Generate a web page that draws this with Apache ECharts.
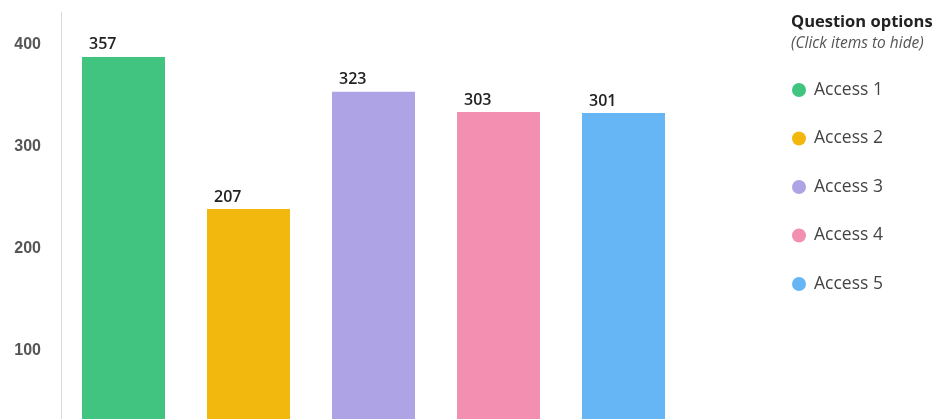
<!DOCTYPE html>
<html>
<head>
<meta charset="utf-8">
<script src="https://cdn.jsdelivr.net/npm/echarts@6/dist/echarts.min.js"></script>
<style>html,body{margin:0;padding:0;background:#fff}#c{width:944px;height:419px}</style>
</head>
<body>
<div id="c"></div>
<script>
const categories = ['Access 1', 'Access 2', 'Access 3', 'Access 4', 'Access 5'];
const barValues = [388, 239, 354, 334, 333];
const valueLabels = ['357', '207', '323', '303', '301'];
const colors = ['#40c47f', '#f2b80e', '#aea4e5', '#f390b2', '#66b6f6'];
const yTicks = [100, 200, 300, 400];

const chart = echarts.init(document.getElementById('c'), null, {renderer: 'canvas'});
const series = categories.map((name, i) => ({
  name: name,
  type: 'bar',
  stack: 'all',
  barWidth: 83,
  itemStyle: {color: colors[i]},
  data: categories.map((c, j) => j === i ? barValues[i] : null),
  label: {
    show: true,
    position: [7, -20],
    formatter: () => valueLabels[i],
    fontFamily: 'Open Sans',
    fontSize: 16,
    fontWeight: 600,
    color: '#222'
  },
  emphasis: {disabled: true}
}));

chart.setOption({
  animation: false,
  title: {
    text: 'Question options',
    subtext: '(Click items to hide)',
    left: 791,
    top: 12,
    padding: 0,
    itemGap: 3,
    textStyle: {fontFamily: 'Open Sans', fontSize: 16.5, fontWeight: 'bold', color: '#222', lineHeight: 20},
    subtextStyle: {fontFamily: 'Open Sans', fontSize: 15.5, fontStyle: 'italic', color: '#555', lineHeight: 18}
  },
  legend: {
    orient: 'vertical',
    left: 792,
    top: 79,
    padding: 0,
    icon: 'circle',
    itemWidth: 14,
    itemHeight: 14,
    itemGap: 26.5,
    data: categories,
    textStyle: {fontFamily: 'Open Sans', fontSize: 17.5, color: '#444', lineHeight: 22, padding: [0, 0, 0, 3]}
  },
  grid: {left: 61, width: 625, top: 12, height: 441, outerBoundsMode: 'none', containLabel: false},
  xAxis: {
    type: 'category',
    data: categories,
    show: false
  },
  yAxis: {
    type: 'value',
    min: 0,
    max: 432,
    interval: 100,
    axisLine: {show: true, lineStyle: {color: '#d3dae2', width: 1}},
    axisTick: {show: false},
    splitLine: {show: false},
    axisLabel: {
      margin: 20,
      showMaxLabel: false,
      fontFamily: 'Liberation Sans',
      fontSize: 16,
      fontWeight: 'bold',
      color: '#555',
      formatter: v => yTicks.includes(v) ? String(v) : ''
    }
  },
  series: series
});
</script>
</body>
</html>
